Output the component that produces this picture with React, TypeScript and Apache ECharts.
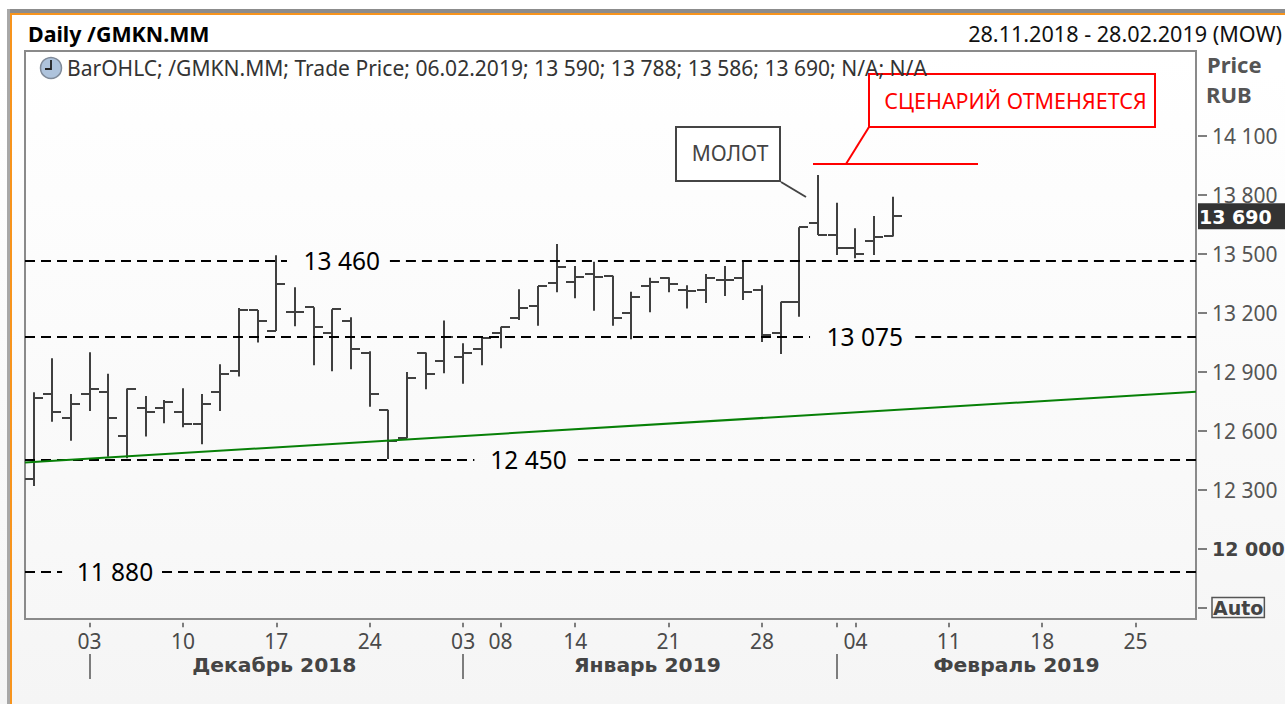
import React, { useEffect, useRef } from "react";
import * as echarts from "echarts";

const FONT = "'Noto Sans', sans-serif";
const BOLD = "'DejaVu Sans', sans-serif";

const dates = [
  "28.11.2018","29.11.2018","30.11.2018",
  "03.12.2018","04.12.2018","05.12.2018","06.12.2018","07.12.2018",
  "10.12.2018","11.12.2018","12.12.2018","13.12.2018","14.12.2018",
  "17.12.2018","18.12.2018","19.12.2018","20.12.2018","21.12.2018",
  "24.12.2018","25.12.2018","26.12.2018","27.12.2018","28.12.2018",
  "03.01.2019","04.01.2019","08.01.2019","09.01.2019","10.01.2019","11.01.2019",
  "14.01.2019","15.01.2019","16.01.2019","17.01.2019","18.01.2019",
  "21.01.2019","22.01.2019","23.01.2019","24.01.2019","25.01.2019",
  "28.01.2019","29.01.2019","30.01.2019","31.01.2019","01.02.2019",
  "04.02.2019","05.02.2019","06.02.2019","07.02.2019","08.02.2019",
  "11.02.2019","12.02.2019","13.02.2019","14.02.2019","15.02.2019",
  "18.02.2019","19.02.2019","20.02.2019","21.02.2019","22.02.2019",
  "25.02.2019","26.02.2019","27.02.2019","28.02.2019",
];

const open = [12352,12784,12665,12784,12795,12572,12715,12715,12696,12633,12795,12904,13213,13106,13204,13227,13098,13159,12996,12706,12561,12994,12954,12975,13015,13094,13172,13233,13349,13357,13394,13387,13196,13336,13376,13316,13316,13365,13376,13315,13098,13255,13655,13594,13527,13565,13590];
const high = [12795,12967,12786,12998,12888,12813,12776,12755,12815,12786,12937,13223,13213,13491,13328,13227,13216,13176,13003,12706,12898,12996,13159,13044,13071,13128,13318,13335,13548,13437,13458,13387,13306,13377,13379,13338,13396,13437,13467,13338,13255,13633,13899,13758,13628,13691,13788];
const low = [12318,12645,12548,12699,12467,12459,12569,12637,12617,12530,12699,12874,13047,13106,13130,12932,12901,12911,12721,12455,12561,12810,12891,12838,12932,13018,13162,13132,13303,13272,13209,13133,13064,13201,13303,13220,13248,13284,13264,13050,12989,13179,13594,13493,13476,13493,13586];
const close = [12764,12696,12735,12813,12665,12813,12696,12745,12633,12735,12886,13213,13157,13347,13204,13126,13216,13016,12784,12548,12866,12886,13077,12993,13071,13125,13223,13335,13433,13382,13382,13174,13277,13357,13347,13308,13374,13365,13304,13084,13255,13633,13594,13527,13496,13584,13690];

const dayLabels = ["03.12.2018","10.12.2018","17.12.2018","24.12.2018","03.01.2019","08.01.2019","14.01.2019","21.01.2019","28.01.2019","04.02.2019","11.02.2019","18.02.2019","25.02.2019"];
const extraTicks = ["01.02.2019"];
const monthMarks = ["03.12.2018","03.01.2019","01.02.2019"];
const monthNames: Record<string, string> = {
  "17.12.2018": "{a|Декабрь 2018}",
  "18.01.2019": "{b|Январь 2019}",
  "15.02.2019": "{c|Февраль 2019}",
};

const levelPrices = [13460, 13075, 12450, 11880];
const levelLabels = ["13 460", "13 075", "12 450", "11 880"];
const levelGapFrom = [13.57, 41.57, 23.6, 1.53];
const levelGapTo = [19.08, 47.2, 29.15, 6.88];
const levelLabelAt = [16.5, 44.5, 26.5, 4.36];

const trendFrom = [-0.455, 12437];
const trendTo = [62.23, 12797];
const axisFromIdx = -0.455;
const axisToIdx = 62.23;
const lastPrice = 13690;

const fmt = (v: number) => String(v).replace(/(\d)(\d{3})$/, "$1 $2");

export default function App() {
  const ref = useRef<HTMLDivElement>(null);
  useEffect(() => {
    document.body.style.margin = "0";
    const chart = echarts.init(ref.current!, undefined, { renderer: "svg" });
    const ohlc = open.map((o, i) => [i, o, high[i], low[i], close[i]]);
    const monthStyle = { fontFamily: BOLD, fontSize: 20.3, fontWeight: "bold", color: "#444", lineHeight: 20 };
    const option: any = {
      animation: false,
      grid: { left: 24.16, width: 1176.84, top: 135.5, height: 472, outerBoundsMode: "none" },
      xAxis: [
        {
          type: "category",
          data: dates,
          boundaryGap: true,
          position: "bottom",
          offset: 15.2,
          axisLine: { show: false },
          axisTick: {
            show: true,
            alignWithLabel: true,
            length: 4.5,
            interval: (_: number, v: string) => dayLabels.includes(v) || extraTicks.includes(v),
            lineStyle: { color: "#555", width: 1.5 },
          },
          axisLabel: {
            show: true,
            interval: (_: number, v: string) => dayLabels.includes(v),
            formatter: (v: string) => v.slice(0, 2),
            margin: 8,
            color: "#4a4a4a",
            fontFamily: FONT,
            fontSize: 21,
            lineHeight: 20,
          },
          splitLine: { show: false },
        },
        {
          type: "category",
          data: dates,
          boundaryGap: true,
          position: "bottom",
          offset: 46.5,
          axisLine: { show: false },
          axisTick: {
            show: true,
            alignWithLabel: true,
            length: 25,
            interval: (_: number, v: string) => monthMarks.includes(v),
            lineStyle: { color: "#555", width: 1.5 },
          },
          axisLabel: {
            show: true,
            interval: (_: number, v: string) => v in monthNames,
            formatter: (v: string) => monthNames[v] ?? "",
            margin: 1,
            rich: {
              a: { ...monthStyle, padding: [0, 4, 0, 0] },
              b: { ...monthStyle, padding: [0, 5, 0, 0] },
              c: { ...monthStyle, padding: [0, 14, 0, 0] },
            },
          },
          splitLine: { show: false },
        },
      ],
      yAxis: {
        type: "value",
        position: "right",
        min: 11700,
        max: 14100,
        interval: 300,
        offset: -3,
        axisLine: { show: false },
        axisTick: { show: true, length: 9, lineStyle: { color: "#555", width: 1.5 } },
        splitLine: { show: false },
        axisLabel: {
          margin: 14,
          align: "left",
          color: "#555",
          fontFamily: FONT,
          fontSize: 21,
          formatter: (v: number) =>
            v === 11700 ? "{auto|Auto}" : v === 12000 ? `{bold|${fmt(v)}}` : fmt(v),
          rich: {
            bold: { fontFamily: BOLD, fontSize: 19, fontWeight: "bold", color: "#444" },
            auto: {
              fontFamily: BOLD, fontSize: 19, fontWeight: "bold", color: "#444",
              borderColor: "#555", borderWidth: 1.5, padding: [1, 1, 0, 1],
            },
          },
        },
      },
      series: [
        {
          type: "custom",
          name: "GMKN.MM",
          data: ohlc,
          encode: { x: 0, y: [1, 2, 3, 4] },
          clip: false,
          z: 3,
          renderItem: (_: any, api: any) => {
            const i = api.value(0);
            const o = api.coord([i, api.value(1)]);
            const h = api.coord([i, api.value(2)]);
            const l = api.coord([i, api.value(3)]);
            const c = api.coord([i, api.value(4)]);
            const x = Math.round(o[0]);
            const st = { stroke: "#404040", lineWidth: 2 };
            return {
              type: "group",
              children: [
                { type: "line", shape: { x1: x, y1: h[1], x2: x, y2: l[1] }, style: st },
                { type: "line", shape: { x1: x - 9, y1: Math.round(o[1]), x2: x, y2: Math.round(o[1]) }, style: st },
                { type: "line", shape: { x1: x, y1: Math.round(c[1]), x2: x + 9, y2: Math.round(c[1]) }, style: st },
              ],
            };
          },
        },
        {
          type: "custom",
          name: "levels",
          data: levelPrices.map((p, i) => [levelLabelAt[i], p, levelGapFrom[i], levelGapTo[i], i]),
          encode: { x: 0, y: 1 },
          clip: false,
          z: 4,
          renderItem: (_: any, api: any) => {
            const y = Math.round(api.coord([0, api.value(1)])[1]);
            const x0 = api.coord([0, api.value(1)])[0];
            const w = api.size([1, 0])[0];
            const px = (k: number) => x0 + k * w;
            const st = { stroke: "#000", lineWidth: 2, lineDash: [10, 6] };
            return {
              type: "group",
              children: [
                { type: "line", shape: { x1: px(axisFromIdx), y1: y, x2: px(api.value(2)), y2: y }, style: st },
                { type: "line", shape: { x1: px(api.value(3)), y1: y, x2: px(axisToIdx), y2: y }, style: st },
                {
                  type: "text",
                  style: {
                    x: px(api.value(0)), y: y - 1,
                    text: levelLabels[api.value(4)],
                    fill: "#000", fontFamily: FONT, fontSize: 24.5,
                    align: "center", verticalAlign: "middle",
                  },
                },
              ],
            };
          },
        },
        {
          type: "custom",
          name: "trend",
          data: [[trendFrom[0], trendFrom[1], trendTo[0], trendTo[1]]],
          encode: { x: 0, y: 1 },
          clip: false,
          z: 5,
          renderItem: (_: any, api: any) => {
            const base = api.coord([0, api.value(1)]);
            const end = api.coord([0, api.value(3)]);
            const w = api.size([1, 0])[0];
            return {
              type: "line",
              shape: {
                x1: base[0] + api.value(0) * w, y1: base[1],
                x2: base[0] + api.value(2) * w, y2: end[1],
              },
              style: { stroke: "#078007", lineWidth: 2 },
            };
          },
        },
        {
          type: "custom",
          name: "last",
          data: [[46, lastPrice]],
          encode: { x: 0, y: 1 },
          clip: false,
          z: 6,
          renderItem: (_: any, api: any) => {
            const y = api.coord([46, api.value(1)])[1];
            return {
              type: "group",
              children: [
                { type: "rect", shape: { x: 1198, y: y - 13, width: 87, height: 26 }, style: { fill: "#333" } },
                {
                  type: "text",
                  style: {
                    x: 1199, y: y + 1, text: fmt(api.value(1)), fill: "#fff",
                    fontFamily: BOLD, fontSize: 19, fontWeight: "bold",
                    align: "left", verticalAlign: "middle",
                  },
                },
              ],
            };
          },
        },
      ],
      graphic: [
        {
          type: "rect", z: -10, silent: true,
          shape: { x: 25, y: 51, width: 1171, height: 568 },
          style: {
            stroke: "#8a8a8a", lineWidth: 2,
            fill: new echarts.graphic.LinearGradient(0, 0, 0, 1, [
              { offset: 0, color: "#ffffff" },
              { offset: 1, color: "#f7f7f7" },
            ]),
          },
        },
        { type: "rect", z: -5, shape: { x: 7, y: 9, width: 1278, height: 4 }, style: { fill: "#8c8c8c" } },
        { type: "rect", z: -5, shape: { x: 7, y: 13, width: 1278, height: 2 }, style: { fill: "#f7941d" } },
        { type: "rect", z: -5, shape: { x: 7, y: 9, width: 3, height: 695 }, style: { fill: "#a8a8a8" } },
        { type: "rect", z: -5, shape: { x: 10, y: 13, width: 2, height: 691 }, style: { fill: "#f7941d" } },
        {
          type: "text", z: 10, x: 28, y: 33,
          style: { text: "Daily /GMKN.MM", fill: "#000", fontFamily: FONT, fontSize: 21.4, fontWeight: "bold", verticalAlign: "middle" },
        },
        {
          type: "text", z: 10, x: 1282, y: 33,
          style: { text: "28.11.2018 - 28.02.2019 (MOW)", fill: "#111", fontFamily: FONT, fontSize: 21.6, align: "right", verticalAlign: "middle" },
        },
        {
          type: "text", z: 13, x: 67, y: 67,
          style: { text: "BarOHLC; /GMKN.MM; Trade Price; 06.02.2019; 13 590; 13 788; 13 586; 13 690; N/A; N/A", fill: "#333", fontFamily: FONT, fontSize: 21.05, verticalAlign: "middle" },
        },
        { type: "circle", z: 10, shape: { cx: 51, cy: 68, r: 10.5 }, style: { fill: "#aec3dc", stroke: "#7f8a99", lineWidth: 1.5 } },
        { type: "polyline", z: 11, shape: { points: [[51, 60], [51, 69], [45, 69]] }, style: { stroke: "#222", lineWidth: 1.8, fill: "none" } },
        {
          type: "text", z: 10, x: 1207, y: 64,
          style: { text: "Price", fill: "#555", fontFamily: FONT, fontSize: 22, fontWeight: "bold", verticalAlign: "middle" },
        },
        {
          type: "text", z: 10, x: 1206, y: 94,
          style: { text: "RUB", fill: "#555", fontFamily: FONT, fontSize: 22, fontWeight: "bold", verticalAlign: "middle" },
        },
        { type: "rect", z: 10, shape: { x: 869, y: 74, width: 286, height: 53 }, style: { fill: "#fff", stroke: "#ff0000", lineWidth: 2 } },
        {
          type: "text", z: 11, x: 1015.5, y: 100,
          style: { text: "СЦЕНАРИЙ ОТМЕНЯЕТСЯ", fill: "#ff0000", fontFamily: FONT, fontSize: 21.5, align: "center", verticalAlign: "middle" },
        },
        { type: "line", z: 10, shape: { x1: 813, y1: 164, x2: 978, y2: 164 }, style: { stroke: "#ff0000", lineWidth: 2 } },
        { type: "line", z: 10, shape: { x1: 846, y1: 164, x2: 869, y2: 127 }, style: { stroke: "#ff0000", lineWidth: 2 } },
        { type: "rect", z: 10, shape: { x: 676, y: 127, width: 104, height: 54 }, style: { fill: "#fff", stroke: "#444", lineWidth: 2 } },
        {
          type: "text", z: 11, x: 730, y: 153,
          style: { text: "МОЛОТ", fill: "#444", fontFamily: FONT, fontSize: 21, align: "center", verticalAlign: "middle" },
        },
        { type: "line", z: 10, shape: { x1: 781, y1: 182, x2: 806, y2: 197 }, style: { stroke: "#444", lineWidth: 2 } },
      ],
    };
    chart.setOption(option);
    return () => chart.dispose();
  }, []);
  return (
    <div
      ref={ref}
      style={{
        width: 1285,
        height: 704,
        background: "linear-gradient(#ffffff 0%, #ffffff 10%, #f5f5f5 100%)",
      }}
    />
  );
}
